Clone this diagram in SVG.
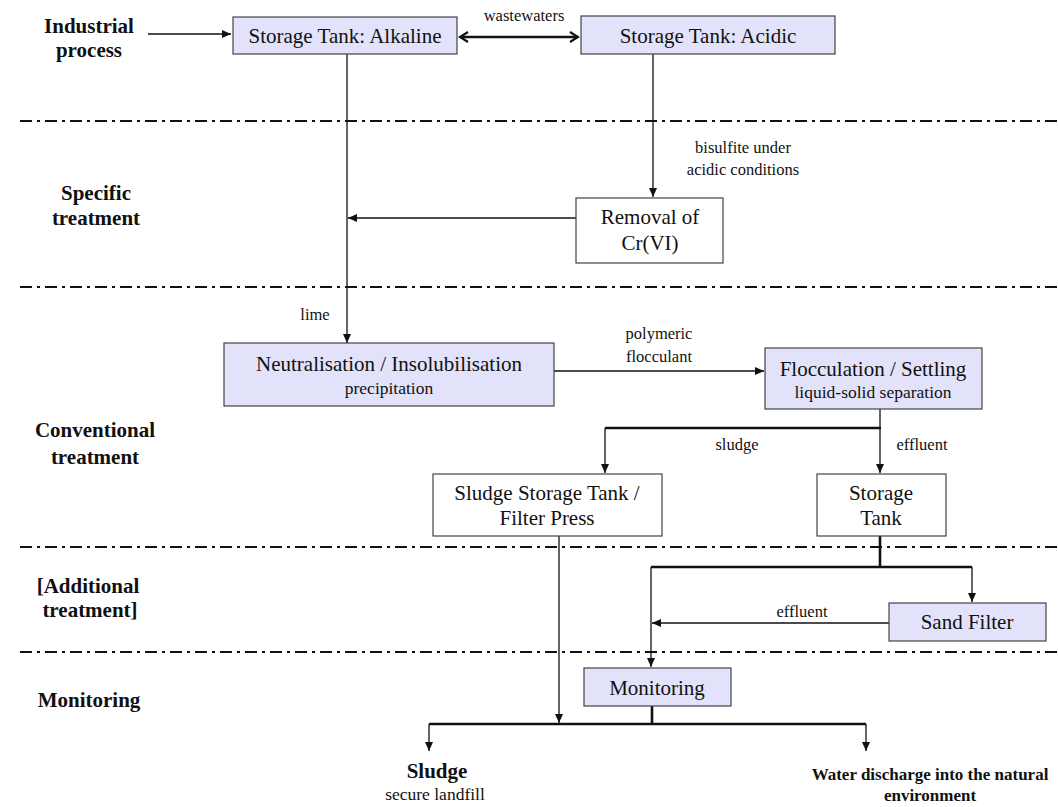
<svg xmlns="http://www.w3.org/2000/svg" width="1058" height="807" viewBox="0 0 1058 807">
<style>
  text { font-family: "Liberation Serif", "Times New Roman", serif; fill: #111; }
  .sec { font-family: "Liberation Serif", "Times New Roman", serif; font-weight: bold; font-size: 21px; text-anchor: middle; }
  .out { font-family: "Liberation Serif", "Times New Roman", serif; font-weight: bold; font-size: 17px; text-anchor: middle; }
  .box { font-family: "Liberation Serif", "Times New Roman", serif; font-size: 21px; text-anchor: middle; }
  .sub { font-family: "Liberation Serif", "Times New Roman", serif; font-size: 17.5px; text-anchor: middle; }
  .lbl { font-family: "Liberation Serif", "Times New Roman", serif; font-size: 16.5px; text-anchor: middle; }
  .fill { fill: #e2e2fa; stroke: #444; stroke-width: 1.2; }
  .white { fill: #ffffff; stroke: #444; stroke-width: 1.2; }
  .sep { stroke: #111; stroke-width: 2; stroke-dasharray: 12 5 3 5; fill: none; }
  .ln { stroke: #111; stroke-width: 1.3; fill: none; }
  .thick { stroke: #111; stroke-width: 2.6; fill: none; }
</style>
<defs>
  <marker id="ah" markerWidth="10" markerHeight="10" refX="9" refY="5" orient="auto" markerUnits="userSpaceOnUse">
    <path d="M0,1 L9,5 L0,9 Z" fill="#111"/>
  </marker>
  <marker id="chev" markerWidth="12" markerHeight="12" refX="10" refY="6" orient="auto-start-reverse" markerUnits="userSpaceOnUse">
    <path d="M2,1 L10,6 L2,11" fill="none" stroke="#111" stroke-width="2.2"/>
  </marker>
</defs>
<rect width="1058" height="807" fill="#ffffff"/>

<g id="separators">
  <line class="sep" x1="20" y1="121" x2="1058" y2="121"/>
  <line class="sep" x1="20" y1="287" x2="1058" y2="287"/>
  <line class="sep" x1="20" y1="547" x2="1058" y2="547"/>
  <line class="sep" x1="20" y1="652" x2="1058" y2="652"/>
</g>

<g id="section-labels">
  <text class="sec" x="89" y="33">Industrial</text>
  <text class="sec" x="89" y="57">process</text>
  <text class="sec" x="96" y="200">Specific</text>
  <text class="sec" x="96" y="225">treatment</text>
  <text class="sec" x="95" y="437">Conventional</text>
  <text class="sec" x="95" y="464">treatment</text>
  <text class="sec" x="88" y="593">[Additional</text>
  <text class="sec" x="90" y="617">treatment]</text>
  <text class="sec" x="89" y="707">Monitoring</text>
</g>

<g id="connectors">
  <line class="ln" x1="148" y1="34" x2="231" y2="34" marker-end="url(#ah)"/>
  <line class="thick" x1="460" y1="37" x2="578" y2="37" marker-start="url(#chev)" marker-end="url(#chev)"/>
  <line class="ln" x1="347" y1="54" x2="347" y2="343" marker-end="url(#ah)"/>
  <line class="ln" x1="653" y1="54" x2="653" y2="197" marker-end="url(#ah)"/>
  <line class="ln" x1="576" y1="218" x2="348" y2="218" marker-end="url(#ah)"/>
  <line class="ln" x1="554" y1="371" x2="764" y2="371" marker-end="url(#ah)"/>
  <line class="ln" x1="880" y1="409" x2="880" y2="428"/>
  <line class="thick" x1="605" y1="428" x2="881" y2="428"/>
  <line class="ln" x1="605" y1="428" x2="605" y2="473" marker-end="url(#ah)"/>
  <line class="ln" x1="880" y1="428" x2="880" y2="473" marker-end="url(#ah)"/>
  <line class="thick" x1="880" y1="536" x2="880" y2="567"/>
  <line class="thick" x1="651" y1="567" x2="972" y2="567"/>
  <line class="ln" x1="972" y1="567" x2="972" y2="602" marker-end="url(#ah)"/>
  <line class="ln" x1="651" y1="567" x2="651" y2="667" marker-end="url(#ah)"/>
  <line class="ln" x1="889" y1="623" x2="652" y2="623" marker-end="url(#ah)"/>
  <line class="ln" x1="559" y1="536" x2="559" y2="723" marker-end="url(#ah)"/>
  <line class="thick" x1="652" y1="706" x2="652" y2="724"/>
  <line class="thick" x1="429" y1="724" x2="866" y2="724"/>
  <line class="ln" x1="429" y1="724" x2="429" y2="751" marker-end="url(#ah)"/>
  <line class="ln" x1="866" y1="724" x2="866" y2="751" marker-end="url(#ah)"/>
</g>

<g id="connector-labels">
  <text class="lbl" x="524" y="21">wastewaters</text>
  <text class="lbl" x="743" y="153">bisulfite under</text>
  <text class="lbl" x="743" y="175">acidic conditions</text>
  <text class="lbl" x="315" y="320">lime</text>
  <text class="lbl" x="659" y="339">polymeric</text>
  <text class="lbl" x="659" y="362">flocculant</text>
  <text class="lbl" x="737" y="450">sludge</text>
  <text class="lbl" x="922" y="450">effluent</text>
  <text class="lbl" x="802" y="617">effluent</text>
</g>

<g id="node-alkaline">
  <rect class="fill" x="233" y="17" width="224" height="37"/>
  <text class="box" x="345" y="43">Storage Tank: Alkaline</text>
</g>
<g id="node-acidic">
  <rect class="fill" x="581" y="16" width="254" height="38"/>
  <text class="box" x="708" y="43">Storage Tank: Acidic</text>
</g>
<g id="node-removal">
  <rect class="white" x="576" y="198" width="147" height="65"/>
  <text class="box" x="650" y="224">Removal of</text>
  <text class="box" x="650" y="250">Cr(VI)</text>
</g>
<g id="node-neutralisation">
  <rect class="fill" x="224" y="343" width="330" height="63"/>
  <text class="box" x="389" y="371">Neutralisation / Insolubilisation</text>
  <text class="sub" x="389" y="394">precipitation</text>
</g>
<g id="node-flocculation">
  <rect class="fill" x="765" y="348" width="217" height="61"/>
  <text class="box" x="873" y="376">Flocculation / Settling</text>
  <text class="sub" x="873" y="398">liquid-solid separation</text>
</g>
<g id="node-sludge-tank">
  <rect class="white" x="433" y="474" width="229" height="62"/>
  <text class="box" x="547" y="500">Sludge Storage Tank /</text>
  <text class="box" x="547" y="525">Filter Press</text>
</g>
<g id="node-storage-tank">
  <rect class="white" x="817" y="474" width="129" height="62"/>
  <text class="box" x="881" y="500">Storage</text>
  <text class="box" x="881" y="525">Tank</text>
</g>
<g id="node-sand-filter">
  <rect class="fill" x="889" y="603" width="157" height="38"/>
  <text class="box" x="967" y="629">Sand Filter</text>
</g>
<g id="node-monitoring">
  <rect class="fill" x="584" y="668" width="147" height="38"/>
  <text class="box" x="657" y="695">Monitoring</text>
</g>
<g id="node-sludge-out">
  <text class="sec" x="437" y="778">Sludge</text>
  <text class="sub" x="435" y="800">secure landfill</text>
</g>
<g id="node-water-out">
  <text class="out" x="930" y="780">Water discharge into the natural</text>
  <text class="out" x="930" y="801">environment</text>
</g>
</svg>
